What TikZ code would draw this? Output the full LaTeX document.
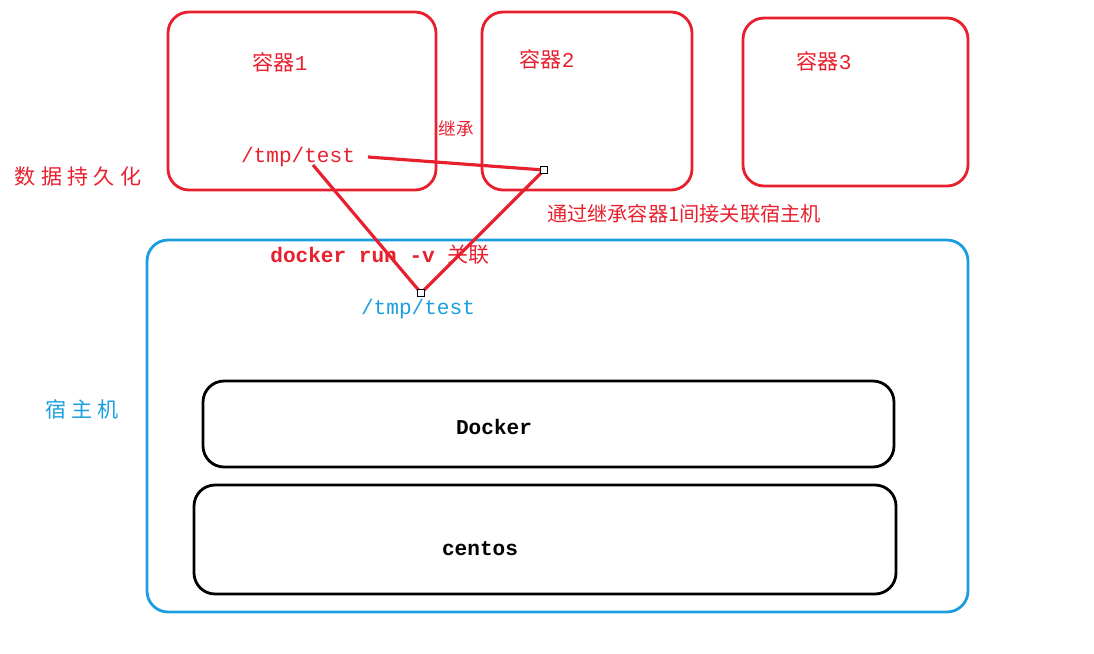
\documentclass[tikz,border=0pt]{standalone}
\usepackage{fontspec}
\setmainfont{Liberation Mono}
\newfontfamily\cjk{Noto Sans CJK SC}
\newfontfamily\cjkwide[LetterSpace=25]{Noto Sans CJK SC}
\definecolor{boxred}{HTML}{E8202E}
\definecolor{hostblue}{HTML}{1A9EE0}
\tikzset{
    box/.style={draw, line width=1.6pt, rounded corners=12pt},
    lbl/.style={font=\fontsize{12}{14}\selectfont},
    link/.style={draw=boxred, line width=1.8pt},
    dot/.style={draw=black, fill=white, inner sep=0pt, minimum size=4pt},
}
\begin{document}
\begin{tikzpicture}[x=0.02cm, y=-0.02cm]
    \useasboundingbox (0,0) rectangle (1094,653);
    %
    \draw[box, boxred] (168,12) rectangle (436,190);
    \draw[box, boxred] (482,12) rectangle (692,190);
    \draw[box, boxred] (743,18) rectangle (968,186);
    \draw[box, hostblue] (147,240) rectangle (968,612);
    \draw[box, black] (203,381) rectangle (894,467);
    \draw[box, black] (194,485) rectangle (896,594);
    %
    \node[lbl, boxred] (c1) at (280,62) {{\cjk 容器}1};
    \node[lbl, boxred] (c2) at (547,59) {{\cjk 容器}2};
    \node[lbl, boxred] (c3) at (824,61) {{\cjk 容器}3};
    \node[lbl, boxred, inner sep=1pt] (ctmp) at (298,157) {/tmp/test};
    \node[lbl, boxred, font=\cjk\fontsize{10}{12}\selectfont] (inh) at (456,129) {继承};
    \node[lbl, boxred, font=\cjkwide\fontsize{12}{14}\selectfont] (persist) at (78,177) {数据持久化};
    \node[lbl, boxred, font=\cjk\fontsize{11.5}{14}\selectfont] (via) at (684,214) {通过继承容器1间接关联宿主机};
    \node[lbl, boxred] (run) at (380,255) {\textbf{docker run -v} {\cjk 关联}};
    \node[lbl, hostblue] (htmp) at (418,309) {/tmp/test};
    \node[lbl, hostblue, font=\cjkwide\fontsize{12}{14}\selectfont] (host) at (82,409) {宿主机};
    \node[lbl] (docker) at (494,427) {\textbf{Docker}};
    \node[lbl] (centos) at (480,549) {\textbf{centos}};
    %
    \coordinate (a) at (313,165);
    \coordinate (b) at (421,293);
    \coordinate (c) at (544,170);
    \coordinate (d) at (368,157);
    \draw[link] (a) -- (b) -- (c) -- (d);
    \node[dot] (bd) at (b) {};
    \node[dot] (cd) at (c) {};
\end{tikzpicture}
\end{document}
